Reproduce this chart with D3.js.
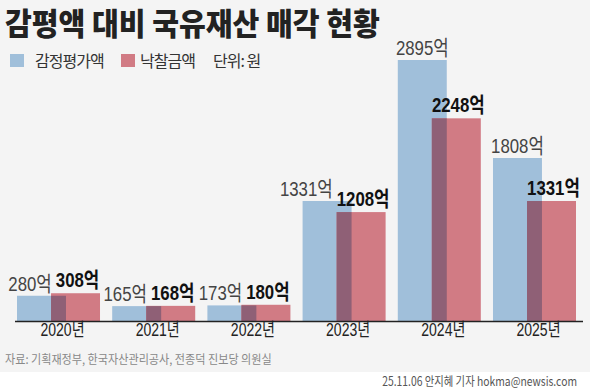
<!DOCTYPE html>
<html><head><meta charset="utf-8">
<script src="https://cdn.jsdelivr.net/npm/d3@7"></script>
<style>
html,body{margin:0;padding:0;background:#fff;}
svg{display:block;}
</style></head><body>
<svg id="c" width="590" height="391"></svg>
<script>
const years = ["2020년","2021년","2022년","2023년","2024년","2025년"];
const appraised = [280,165,173,1331,2895,1808];
const sold = [308,168,180,1208,2248,1331];
const unitSuffix = "억";
const titleText = "감평액 대비 국유재산 매각 현황";
const legendLabels = ["감정평가액","낙찰금액"];
const unitNote = "단위: 원";
const sourceText = "자료: 기획재정부, 한국자산관리공사, 전종덕 진보당 의원실";
const creditText = "25.11.06 안지혜 기자 hokma@newsis.com";

const W=590,H=391;
const svg=d3.select("#c");
const LAT="'Liberation Sans',Arial,sans-serif";
const KR="'Noto Sans CJK KR',sans-serif";
const C={blue:"#a0bfda",red:"#d17b84",mix:"#8f6076",bg:"#f4f4f4"};
const SX=0.8;

svg.append("rect").attr("width",W).attr("height",372).attr("fill",C.bg);

// fit a text to a target width by horizontal scaling
function fitText(sel,targetW,tx,ty){
  const w=sel.node().getComputedTextLength();
  sel.attr("transform",`translate(${tx},${ty}) scale(${Math.min(1,targetW/w)},1)`);
}

// title
const tt=svg.append("text")
  .attr("font-family",KR).attr("font-weight",900).attr("font-size",31).attr("fill","#222").text(titleText);
fitText(tt,375,5,35);

// legend
const lg=svg.append("g").attr("font-family",KR).attr("font-size",16).attr("fill","#333").attr("letter-spacing",-1);
lg.append("rect").attr("x",10).attr("y",54).attr("width",14).attr("height",13).attr("fill",C.blue);
lg.append("text").attr("x",35).attr("y",67).text(legendLabels[0]);
lg.append("rect").attr("x",121).attr("y",54).attr("width",14).attr("height",13).attr("fill",C.red);
lg.append("text").attr("x",140).attr("y",67).text(legendLabels[1]);
lg.append("text").attr("x",213).attr("y",67).text(unitNote);

// scales
const x=d3.scaleBand().domain(years).range([17,576]).paddingInner(0.128).paddingOuter(0);
const y=d3.scaleLinear().domain([0,2895]).range([321,60]);
const bw=x.bandwidth()*0.59;
const rows=years.map((yr,i)=>({yr,a:appraised[i],s:sold[i]}));

const bars=svg.append("g");
rows.forEach(d=>{
  const x0=x(d.yr), xr=x0+x.bandwidth()-bw;
  bars.append("rect").attr("x",x0).attr("y",y(d.a)).attr("width",bw).attr("height",y(0)-y(d.a)).attr("fill",C.blue);
  bars.append("rect").attr("x",xr).attr("y",y(d.s)).attr("width",bw).attr("height",y(0)-y(d.s)).attr("fill",C.red);
  const m=Math.min(d.a,d.s);
  bars.append("rect").attr("x",xr).attr("y",y(m)).attr("width",x0+bw-xr).attr("height",y(0)-y(m)).attr("fill",C.mix);
});

// axis
const ax=svg.append("g").attr("transform","translate(0,321)")
  .call(d3.axisBottom(x).tickSize(0).tickPadding(8));
ax.select(".domain").attr("d","M15,0.5H583").attr("stroke","#222").attr("stroke-width",1.5);
ax.selectAll(".tick text").each(function(d){
  const t=d3.select(this).text("").attr("transform",`translate(4,0) scale(0.78,1)`).attr("fill","#222");
  t.append("tspan").attr("font-family",LAT).attr("font-size",18).text(d.replace("년",""));
  t.append("tspan").attr("font-family",KR).attr("font-size",18).text("년");
});

// value labels
function label(g,val,cx,base,bold,fill){
  const gg=g.append("g").attr("transform",`translate(${cx},${base}) scale(${SX},1)`);
  const t=gg.append("text").attr("text-anchor","middle").attr("fill",fill);
  t.append("tspan").attr("font-family",LAT).attr("font-size",21).attr("font-weight",bold?700:400).text(val);
  t.append("tspan").attr("font-family",KR).attr("font-size",21).attr("font-weight",bold?700:400).text(unitSuffix);
  const b=t.node().getBBox();
  return {gg,t,w:b.width*SX,cx,base};
}
const lab=svg.append("g");
rows.forEach(d=>{
  const x0=x(d.yr), xr=x0+x.bandwidth()-bw;
  const rb=y(d.s)-6, bb=y(d.a)-5;
  const r=label(lab,d.s,xr+bw/2+2,rb,true,"#111");
  const b=label(lab,d.a,x0+bw/2,bb,false,"#444");
  const rLeft=r.cx-r.w/2, bRight=b.cx+b.w/2;
  if(Math.abs(rb-bb)<18 && bRight>rLeft-4){
    const nc=rLeft-4-b.w/2;
    b.gg.attr("transform",`translate(${nc},${bb}) scale(${SX},1)`);
  }
});

// source & credit
const st=svg.append("text").attr("font-family",KR).attr("font-size",12.5).attr("fill","#888").text(sourceText);
fitText(st,267,5,364);
const ct=svg.append("text").attr("font-family",KR).attr("font-size",12.5).attr("fill","#555")
  .attr("text-anchor","end").text(creditText);
fitText(ct,195,577,386);
</script></body></html>
